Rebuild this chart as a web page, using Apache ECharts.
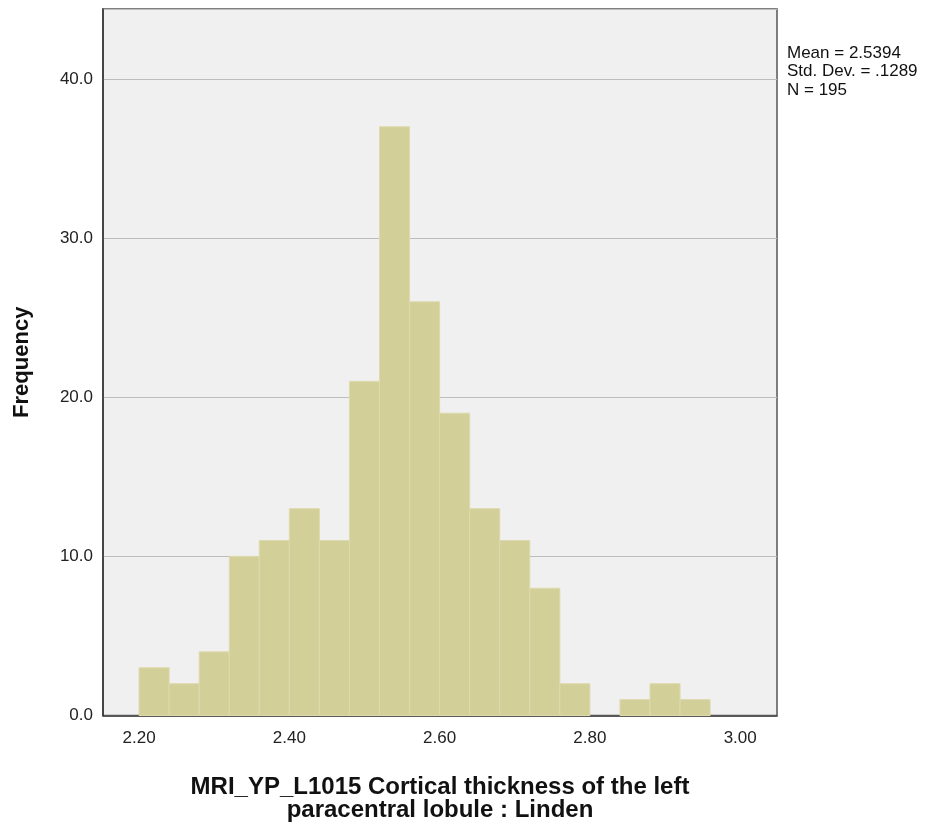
<!DOCTYPE html>
<html>
<head>
<meta charset="utf-8">
<script src="https://cdn.jsdelivr.net/npm/echarts@6/dist/echarts.min.js"></script>
<style>
  html, body { margin: 0; padding: 0; background: #fff; }
  #chart { width: 932px; height: 827px; }
</style>
</head>
<body>
<div id="chart"></div>
<script>
// histogram bins (left edge of each bin, width 0.04)
const binStarts = [2.20, 2.24, 2.28, 2.32, 2.36, 2.40, 2.44, 2.48, 2.52, 2.56,
                   2.60, 2.64, 2.68, 2.72, 2.76, 2.80, 2.84, 2.88, 2.92];
const binWidth = 0.04;
const counts = [3, 2, 4, 10, 11, 13, 11, 21, 37, 26, 19, 13, 11, 8, 2, 0, 1, 2, 1];
const xTicks = [2.2, 2.4, 2.6, 2.8, 3.0];
const statLines = ['Mean = 2.5394', 'Std. Dev. = .1289', 'N = 195'];

document.addEventListener('DOMContentLoaded', () => {
    const chart = echarts.init(document.getElementById('chart'));
    const barData = binStarts.map((s, i) => [s, s + binWidth, counts[i]]);

    const option = {
        animation: false,
        textStyle: { fontFamily: 'Liberation Sans, Arial, sans-serif' },
        grid: {
            left: 103, top: 9, right: 155, bottom: 111,
            show: true,
            backgroundColor: '#f0f0f0',
            borderColor: '#555',
            borderWidth: 1.5
        },
        xAxis: {
            type: 'value',
            min: 2.152,
            max: 3.049,
            splitLine: { show: false },
            axisLine: { lineStyle: { color: '#333', width: 1.5 } },
            axisTick: { show: false },
            axisLabel: {
                customValues: xTicks,
                formatter: v => v.toFixed(2),
                color: '#222',
                fontSize: 17,
                margin: 14
            },
            name: 'MRI_YP_L1015 Cortical thickness of the left\nparacentral lobule : Linden',
            nameLocation: 'middle',
            nameGap: 60,
            nameTextStyle: {
                fontSize: 24,
                fontWeight: 'bold',
                color: '#111',
                lineHeight: 23,
                verticalAlign: 'top'
            }
        },
        yAxis: {
            type: 'value',
            min: 0,
            max: 44.4,
            interval: 10,
            axisLine: { show: true, lineStyle: { color: '#333', width: 1.5 } },
            axisTick: { show: false },
            splitLine: { show: true, lineStyle: { color: '#bdbdbd', width: 1 } },
            axisLabel: {
                formatter: v => v.toFixed(1),
                showMaxLabel: false,
                color: '#222',
                fontSize: 17,
                margin: 10
            },
            name: 'Frequency',
            nameLocation: 'middle',
            nameGap: 70,
            nameTextStyle: { fontSize: 22, fontWeight: 'bold', color: '#111' }
        },
        series: [{
            type: 'custom',
            data: barData,
            encode: { x: [0, 1], y: 2 },
            renderItem: (params, api) => {
                if (api.value(2) <= 0) return null;
                const p0 = api.coord([api.value(0), api.value(2)]);
                const p1 = api.coord([api.value(1), 0]);
                return {
                    type: 'rect',
                    shape: { x: p0[0], y: p0[1], width: p1[0] - p0[0], height: p1[1] - p0[1] },
                    style: { fill: '#d3cf98', stroke: '#dedaae', lineWidth: 1 }
                };
            }
        }],
        graphic: [{
            type: 'text',
            left: 787,
            top: 44,
            style: {
                text: statLines.join('\n'),
                fontSize: 17,
                lineHeight: 18.5,
                fill: '#111',
                fontFamily: 'Liberation Sans, Arial, sans-serif'
            }
        }]
    };
    chart.setOption(option);
});
</script>
</body>
</html>
